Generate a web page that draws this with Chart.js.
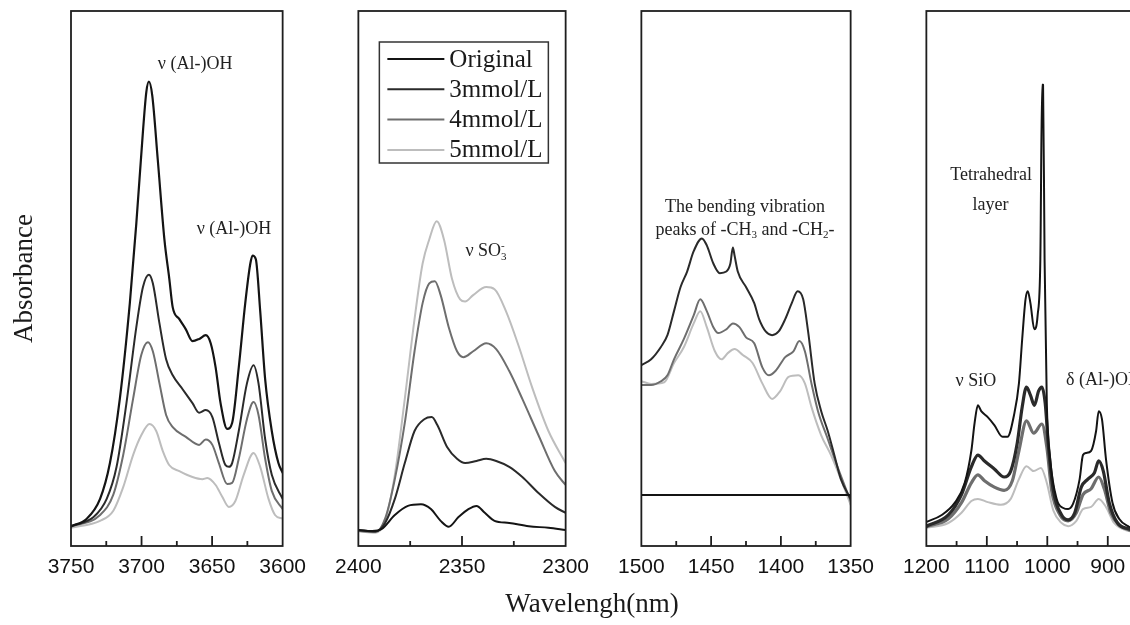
<!DOCTYPE html>
<html>
<head>
<meta charset="utf-8">
<script src="https://cdn.jsdelivr.net/npm/chart.js@4/dist/chart.umd.min.js"></script>
<style>
html,body{margin:0;padding:0;background:#fff;overflow:hidden;width:1130px;height:625px}
#wrap{position:relative;width:1130px;height:625px;overflow:hidden;background:#fff}
canvas{position:absolute;top:0}
#xtitle{position:absolute;left:392px;top:587px;width:400px;text-align:center;font:27px "Liberation Serif","Times New Roman",serif;line-height:32px;color:#1a1a1a}
#err{position:absolute;left:350px;top:300px;width:700px;font:12px monospace;color:red}
</style>
</head>
<body>
<div id="wrap">
<canvas id="c1"></canvas>
<canvas id="c2"></canvas>
<canvas id="c3"></canvas>
<canvas id="c4"></canvas>
<div id="xtitle">Wavelengh(nm)</div>
<div id="err"></div>
</div>
<script>
// ---------------- DATA ----------------
const seriesLabels = ['Original', '3mmol/L', '4mmol/L', '5mmol/L'];

// Panel 1: 3750-3600
const p1Range = [3750, 3600];
const p1Original = [[3750,0.037],[3738.8,0.051],[3729.4,0.088],[3722.4,0.155],[3715.4,0.275],[3708.3,0.454],[3703.7,0.603],[3699,0.775],[3696.6,0.849],[3694.8,0.868],[3692.4,0.842],[3688.5,0.722],[3683.8,0.573],[3680.3,0.499],[3677.9,0.446],[3673.2,0.424],[3668.6,0.405],[3663.9,0.383],[3659.2,0.387],[3654.5,0.394],[3651,0.379],[3647.5,0.334],[3644,0.267],[3639.3,0.219],[3635.8,0.230],[3631.1,0.334],[3626.5,0.454],[3622.9,0.528],[3621.3,0.543],[3619,0.536],[3615.9,0.439],[3612.4,0.312],[3607.7,0.215],[3603,0.155],[3600,0.137]];
const p1Mmol3 = [[3750,0.037],[3734,0.054],[3724.7,0.088],[3717.7,0.148],[3710.7,0.267],[3703.7,0.409],[3699,0.484],[3694.8,0.507],[3692,0.491],[3687.3,0.416],[3682.6,0.349],[3677.9,0.319],[3670.9,0.293],[3663.9,0.267],[3659.2,0.249],[3654.5,0.254],[3649.8,0.241],[3645.2,0.193],[3640.5,0.151],[3638,0.148],[3635.8,0.155],[3631.1,0.215],[3625.3,0.304],[3620.6,0.338],[3617.1,0.304],[3612.4,0.2],[3607.7,0.133],[3600,0.088]];
const p1Mmol4 = [[3750,0.036],[3729.4,0.058],[3720,0.096],[3713,0.170],[3706,0.275],[3700.2,0.357],[3695.5,0.381],[3692,0.364],[3687.3,0.304],[3682.6,0.245],[3677.9,0.222],[3668.6,0.204],[3659.2,0.189],[3654.5,0.199],[3649.8,0.189],[3645.2,0.155],[3639.3,0.116],[3635.8,0.118],[3631.1,0.163],[3625.3,0.237],[3620.6,0.269],[3617.1,0.245],[3612.4,0.163],[3607.7,0.103],[3600,0.069]];
const p1Mmol5 = [[3750,0.034],[3729.4,0.047],[3720,0.066],[3713,0.110],[3706,0.170],[3700.2,0.207],[3694.3,0.228],[3689.6,0.215],[3685,0.178],[3680.3,0.151],[3673.2,0.140],[3663.9,0.129],[3656.9,0.125],[3653.4,0.127],[3647.5,0.114],[3642.8,0.092],[3638.1,0.073],[3633.5,0.084],[3627.6,0.133],[3620.6,0.174],[3615.9,0.148],[3610,0.088],[3605.4,0.058],[3600,0.051]];

// Panel 2: 2400-2300
const p2Range = [2400, 2300];
const p2Original = [[2400,0.030],[2393.4,0.028],[2388.7,0.032],[2382.4,0.058],[2376.1,0.075],[2369.8,0.078],[2365,0.069],[2360.3,0.047],[2356.4,0.036],[2351.7,0.054],[2346.9,0.069],[2343,0.075],[2339,0.062],[2334.3,0.047],[2327.2,0.043],[2317.8,0.037],[2308.3,0.034],[2300,0.030]];
const p2Mmol3 = [[2400,0.030],[2391.8,0.027],[2387.1,0.043],[2382.4,0.088],[2377.6,0.155],[2372.9,0.215],[2368.2,0.237],[2364.6,0.241],[2361.9,0.226],[2357.2,0.185],[2352.4,0.163],[2348.5,0.155],[2343,0.159],[2338.3,0.163],[2333.5,0.159],[2327.2,0.148],[2320.9,0.129],[2313.1,0.099],[2305.2,0.073],[2300,0.062]];
const p2Mmol4 = [[2400,0.028],[2391.8,0.026],[2387.1,0.051],[2382.4,0.125],[2377.6,0.230],[2372.9,0.364],[2369,0.454],[2365.8,0.491],[2363.1,0.495],[2360.3,0.469],[2356.4,0.409],[2352.4,0.364],[2349.3,0.353],[2344.6,0.364],[2338.3,0.379],[2333.5,0.368],[2327.2,0.327],[2320.9,0.275],[2313.1,0.207],[2305.2,0.140],[2300,0.114]];
const p2Mmol5 = [[2400,0.028],[2391.8,0.025],[2387.1,0.047],[2382.4,0.133],[2377.6,0.275],[2372.9,0.424],[2369,0.528],[2365.8,0.573],[2362.2,0.607],[2358.7,0.573],[2354.8,0.499],[2350.9,0.461],[2348.5,0.457],[2344.6,0.469],[2338.3,0.484],[2334.3,0.480],[2328.8,0.439],[2322.5,0.372],[2316.2,0.297],[2308.3,0.215],[2300,0.155]];

// Panel 3: 1500-1350
const p3Range = [1500, 1350];
const p3Original = [[1500,0.0955],[1350,0.0955]];
const p3Mmol3 = [[1500,0.338],[1493,0.349],[1486,0.372],[1481.3,0.394],[1476.6,0.439],[1471.9,0.484],[1467.2,0.513],[1462.5,0.551],[1456.6,0.575],[1453.1,0.562],[1448.4,0.528],[1443.8,0.510],[1439.1,0.513],[1436.2,0.528],[1434.4,0.558],[1433.2,0.543],[1430.9,0.513],[1425,0.484],[1419.1,0.454],[1415.6,0.424],[1410.9,0.401],[1406.3,0.394],[1401.6,0.401],[1396.9,0.424],[1392.2,0.454],[1388,0.476],[1384,0.461],[1380.5,0.401],[1375.8,0.304],[1371.1,0.252],[1366.4,0.215],[1361.7,0.170],[1357,0.125],[1350,0.088]];
const p3Mmol4 = [[1500,0.301],[1493,0.301],[1486,0.308],[1481.3,0.319],[1476.6,0.349],[1469.5,0.387],[1462.5,0.431],[1457.8,0.461],[1453.1,0.439],[1448.4,0.409],[1444.9,0.398],[1439.1,0.405],[1434.4,0.416],[1429.7,0.409],[1425,0.390],[1419.1,0.379],[1413.3,0.334],[1408.6,0.319],[1403.9,0.327],[1396.9,0.353],[1391,0.364],[1386.8,0.383],[1382.8,0.364],[1378.1,0.304],[1373.4,0.252],[1366.4,0.200],[1359.4,0.148],[1350,0.084]];
const p3Mmol5 = [[1500,0.308],[1493,0.303],[1483.6,0.306],[1476.6,0.342],[1469.5,0.372],[1462.5,0.416],[1457.8,0.439],[1453.1,0.409],[1447.3,0.364],[1442.6,0.349],[1437.9,0.361],[1433.2,0.368],[1427.3,0.357],[1420.3,0.342],[1413.3,0.304],[1406.3,0.275],[1400.4,0.290],[1394.5,0.316],[1387.5,0.319],[1382.8,0.304],[1378.1,0.260],[1371.1,0.207],[1364.1,0.170],[1357,0.125],[1350,0.077]];

// Panel 4: 1200-850
const p4Range = [1200, 850];
const p4Original = [[1200,0.045],[1174.5,0.058],[1152.8,0.081],[1136.5,0.118],[1125.6,0.178],[1120.2,0.230],[1114.8,0.263],[1109.3,0.252],[1098.5,0.241],[1087.6,0.226],[1074,0.204],[1065.9,0.204],[1055,0.245],[1046.9,0.304],[1041.5,0.387],[1036,0.461],[1032.3,0.476],[1027.9,0.454],[1021.4,0.405],[1016,0.431],[1011.5,0.536],[1008.6,0.862],[1007,0.862],[1004.5,0.536],[1000.8,0.267],[995.3,0.163],[984.5,0.088],[973.6,0.071],[965.5,0.069],[957.3,0.079],[946.5,0.125],[941,0.170],[935.6,0.174],[927.5,0.178],[919.3,0.215],[915,0.252],[909.6,0.237],[903,0.163],[892.2,0.081],[881.3,0.051],[865,0.036],[850,0.030]];
const p4Mmol3 = [[1200,0.037],[1163.6,0.058],[1141.9,0.096],[1125.6,0.148],[1114.8,0.170],[1103.9,0.159],[1087.6,0.144],[1071.3,0.129],[1060.5,0.140],[1049.6,0.193],[1041.5,0.260],[1034.4,0.297],[1027.9,0.282],[1021.4,0.263],[1014.3,0.290],[1008.9,0.297],[1003.5,0.267],[998,0.185],[989.9,0.103],[976.3,0.058],[965.5,0.049],[954.6,0.062],[943.8,0.110],[932.9,0.125],[922,0.137],[915,0.159],[907.4,0.140],[897.6,0.081],[884,0.043],[865,0.032],[850,0.028]];
const p4Mmol4 = [[1200,0.036],[1163.6,0.051],[1141.9,0.081],[1125.6,0.118],[1114.8,0.133],[1103.9,0.122],[1087.6,0.110],[1071.3,0.104],[1057.8,0.122],[1046.9,0.178],[1034.4,0.234],[1022.5,0.211],[1008.9,0.228],[1000.8,0.185],[992.6,0.103],[979,0.058],[965.5,0.047],[951.9,0.062],[941,0.096],[927.5,0.107],[915,0.129],[905.8,0.107],[894.9,0.062],[881.3,0.040],[865,0.030],[850,0.027]];
const p4Mmol5 = [[1200,0.034],[1163.6,0.043],[1141.9,0.062],[1125.6,0.084],[1114.8,0.088],[1098.5,0.082],[1076.8,0.077],[1060.5,0.088],[1046.9,0.125],[1034.4,0.149],[1022.5,0.140],[1010.5,0.146],[1000.8,0.118],[989.9,0.066],[976.3,0.043],[965.5,0.037],[951.9,0.047],[941,0.069],[927.5,0.073],[915,0.088],[903,0.073],[889.5,0.043],[865,0.028],[850,0.026]];

// ---------------- STYLE ----------------
const SERIF = '"Liberation Serif","Times New Roman",serif';
const SANS = '"Liberation Sans",Arial,sans-serif';
const seriesColors = ['#141414', '#2a2a2a', '#6e6e6e', '#bdbdbd'];

function layoutRich(ctx, str, size) {
  const parts = str.split(/(_\{[^}]*\}|\^\{[^}]*\})/).filter(s => s.length);
  const items = []; let x = 0; let subStart = null, subW = 0;
  parts.forEach(p => {
    let kind = 'n', t = p;
    if (p.startsWith('_{')) { kind = 'sub'; t = p.slice(2, -1); }
    else if (p.startsWith('^{')) { kind = 'sup'; t = p.slice(2, -1); }
    const fs = kind === 'n' ? size : Math.round(size * 0.62);
    ctx.font = fs + 'px ' + SERIF;
    const w = ctx.measureText(t).width;
    if (kind === 'sup' && subStart !== null) {
      items.push({ t: t, kind: kind, fs: fs, x: subStart });
      x = subStart + Math.max(subW, w);
      subStart = null;
    } else {
      items.push({ t: t, kind: kind, fs: fs, x: x });
      if (kind === 'sub') { subStart = x; subW = w; } else subStart = null;
      x += w;
    }
  });
  return { items: items, width: x };
}
function drawRich(ctx, str, x, y, size, align) {
  const L = layoutRich(ctx, str, size);
  let x0 = x;
  if (align === 'center') x0 = x - L.width / 2;
  else if (align === 'right') x0 = x - L.width;
  ctx.textAlign = 'left';
  ctx.textBaseline = 'middle';
  L.items.forEach(it => {
    ctx.font = it.fs + 'px ' + SERIF;
    let dy = 0;
    if (it.kind === 'sub') dy = size * 0.32;
    if (it.kind === 'sup') dy = -size * 0.3;
    ctx.fillText(it.t, x0 + it.x, y + dy);
  });
}

const framePlugin = {
  id: 'frame',
  afterDraw(chart, args, opts) {
    const ctx = chart.ctx, a = chart.chartArea;
    const xs = chart.scales.x;
    const major = (opts && opts.major) || 50;
    ctx.save();
    ctx.strokeStyle = '#1e1e1e';
    ctx.lineWidth = 1.8;
    xs.ticks.forEach(t => {
      if (t.value === xs.min || t.value === xs.max) return;
      const px = xs.getPixelForValue(t.value);
      const isMajor = Math.abs(t.value % major) < 1e-6;
      const len = isMajor ? 10 : 5;
      ctx.beginPath();
      ctx.moveTo(px, a.bottom);
      ctx.lineTo(px, a.bottom - len);
      ctx.stroke();
    });
    ctx.strokeRect(a.left, a.top, a.right - a.left, a.bottom - a.top);
    ctx.restore();
  }
};

const notesPlugin = {
  id: 'notes',
  afterDatasetsDraw(chart, args, opts) {
    if (!opts || !opts.items) return;
    const ctx = chart.ctx;
    ctx.save();
    ctx.fillStyle = '#222';
    opts.items.forEach(n => {
      const px = chart.scales.x.getPixelForValue(n.x);
      const py = chart.scales.y.getPixelForValue(n.y);
      drawRich(ctx, n.text, px, py, 18, n.align || 'center');
    });
    ctx.restore();
  }
};

const boxLegendPlugin = {
  id: 'boxLegend',
  afterDraw(chart, args, opts) {
    if (!opts || !opts.show) return;
    const ctx = chart.ctx, a = chart.chartArea;
    const bx = a.left + 21, by = a.top + 31, bw = 169, bh = 121;
    ctx.save();
    ctx.fillStyle = '#fff';
    ctx.fillRect(bx, by, bw, bh);
    ctx.strokeStyle = '#333';
    ctx.lineWidth = 1.5;
    ctx.strokeRect(bx, by, bw, bh);
    chart.data.datasets.forEach((ds, i) => {
      const yy = by + 17 + i * 30.3;
      ctx.strokeStyle = ds.borderColor;
      ctx.lineWidth = 2;
      ctx.beginPath();
      ctx.moveTo(bx + 8, yy);
      ctx.lineTo(bx + 65, yy);
      ctx.stroke();
      ctx.fillStyle = '#1a1a1a';
      ctx.font = '25px ' + SERIF;
      ctx.textAlign = 'left';
      ctx.textBaseline = 'middle';
      ctx.fillText(ds.label, bx + 70, yy + 1);
    });
    ctx.restore();
  }
};

function makePanel(id, cfg) {
  const canvas = document.getElementById(id);
  const padR = 30;
  const hasY = !!cfg.yTitle;
  const cLeft = hasY ? 0 : cfg.left - 30;
  canvas.width = (cfg.left - cLeft) + cfg.width + padR;
  canvas.height = 625;
  canvas.style.left = cLeft + 'px';
  const datasets = cfg.series.map((s, i) => ({
    label: seriesLabels[i],
    data: s.map(p => ({ x: p[0], y: p[1] })),
    borderColor: seriesColors[i],
    borderWidth: cfg.widths[i],
    pointRadius: 0,
    fill: false,
    cubicInterpolationMode: 'monotone',
    borderJoinStyle: 'round',
    borderCapStyle: 'round'
  }));
  const yScale = {
    min: 0,
    max: 1,
    display: hasY,
    grid: { display: false, drawTicks: false },
    border: { display: false },
    ticks: { display: false }
  };
  if (hasY) {
    yScale.title = {
      display: true,
      text: cfg.yTitle,
      color: '#1a1a1a',
      font: { family: SERIF, size: 27 },
      padding: { top: 9, bottom: 0 }
    };
    yScale.afterFit = s => { s.width = cfg.left; };
  }
  return new Chart(canvas, {
    type: 'line',
    data: { datasets: datasets },
    options: {
      responsive: false,
      animation: false,
      events: [],
      layout: { padding: { left: hasY ? 0 : 30, right: padR, top: 11, bottom: 0 } },
      plugins: {
        legend: { display: false },
        tooltip: { enabled: false },
        frame: { major: cfg.major },
        notes: { items: cfg.notes },
        boxLegend: { show: !!cfg.legend }
      },
      scales: {
        x: {
          type: 'linear',
          reverse: true,
          min: Math.min(cfg.range[0], cfg.range[1]),
          max: Math.max(cfg.range[0], cfg.range[1]),
          grid: { display: false, drawTicks: false },
          border: { display: false },
          ticks: {
            stepSize: cfg.minor,
            autoSkip: false,
            maxRotation: 0,
            padding: 9,
            color: '#111',
            font: { family: SANS, size: 21 },
            callback: v => (Math.abs(v % cfg.major) < 1e-6 ? String(v) : '')
          },
          afterFit: s => { s.height = 79; }
        },
        y: yScale
      }
    },
    plugins: [framePlugin, notesPlugin, boxLegendPlugin]
  });
}

const panels = [
  ['c1', {
    left: 71, width: 214, range: p1Range, minor: 25, major: 50, yTitle: 'Absorbance',
    series: [p1Original, p1Mmol3, p1Mmol4, p1Mmol5], widths: [2.2, 2, 2, 2],
    notes: [
      { x: 3662, y: 0.901, text: 'ν (Al-)OH' },
      { x: 3634.5, y: 0.592, text: 'ν (Al-)OH' }
    ]
  }],
  ['c2', {
    left: 356, width: 212, range: p2Range, minor: 25, major: 50, legend: true,
    series: [p2Original, p2Mmol3, p2Mmol4, p2Mmol5], widths: [2, 2, 2, 2],
    notes: [ { x: 2338.4, y: 0.55, text: 'ν SO_{3}^{-}' } ]
  }],
  ['c3', {
    left: 639, width: 214, range: p3Range, minor: 25, major: 50,
    series: [p3Original, p3Mmol3, p3Mmol4, p3Mmol5], widths: [2, 2, 2, 2],
    notes: [
      { x: 1425.7, y: 0.634, text: 'The bending vibration' },
      { x: 1425.7, y: 0.591, text: 'peaks of -CH_{3} and -CH_{2}-' }
    ]
  }],
  ['c4', {
    left: 924, width: 214, range: p4Range, minor: 50, major: 100,
    series: [p4Original, p4Mmol3, p4Mmol4, p4Mmol5], widths: [2, 3.2, 3.2, 2],
    notes: [
      { x: 1093, y: 0.693, text: 'Tetrahedral' },
      { x: 1094, y: 0.637, text: 'layer' },
      { x: 1118, y: 0.308, text: 'ν SiO' },
      { x: 969, y: 0.31, text: 'δ (Al-)OH', align: 'left' }
    ]
  }]
];
panels.forEach(p => {
  try { makePanel(p[0], p[1]); }
  catch (e) { document.getElementById('err').textContent += p[0] + ': ' + e.message + ' | '; }
});
</script>
</body>
</html>
